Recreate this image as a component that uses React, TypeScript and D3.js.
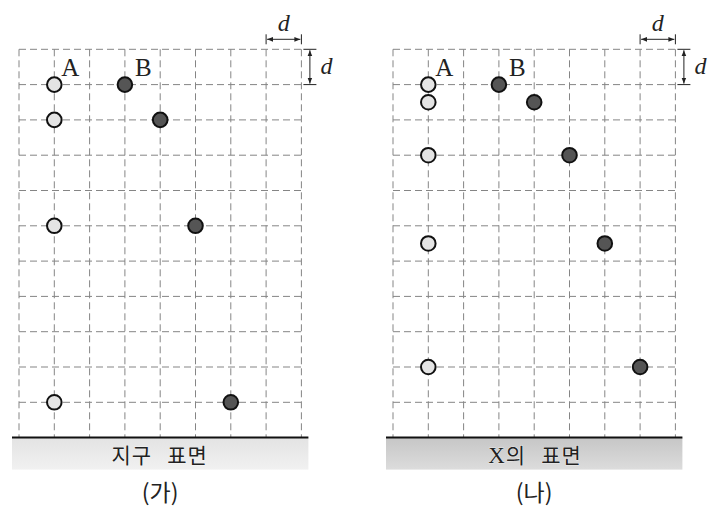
import * as d3 from 'd3';

// grid: 8 columns x 11 rows, each cell = d
const cols = 8;
const rows = 11;

// (가) on Earth: positions in units of d (column, row from top line)
const earthRows = [1, 2, 5, 10];
const earthACols = [1, 1, 1, 1];
const earthBCols = [3, 4, 5, 6];

// (나) on planet X
const xRows = [1, 1.5, 3, 5.5, 9];
const xACols = [1, 1, 1, 1, 1];
const xBCols = [3, 4, 5, 6, 7];

const panels = [
  {
    left: 19,
    rowsA: earthRows,
    colsA: earthACols,
    colsB: earthBCols,
    surface: ['', '지구', '표면'],
    caption: '(가)',
    shade: ['#e3e3e3', '#f1f1f1'],
  },
  {
    left: 393,
    rowsA: xRows,
    colsA: xACols,
    colsB: xBCols,
    surface: ['X', '의', '표면'],
    caption: '(나)',
    shade: ['#c6c6c6', '#dcdcdc'],
  },
];

const cell = 35.3;
const top = 49.3;
const serif = 'Liberation Serif, Times New Roman, serif';
const kr = "'Noto Sans CJK KR', sans-serif";

function Panel({ p, idx }: { p: (typeof panels)[number]; idx: number }) {
  const x = d3.scaleLinear().domain([0, cols]).range([p.left, p.left + cols * cell]);
  const y = d3.scaleLinear().domain([0, rows]).range([top, top + rows * cell]);
  const right = x(cols);
  const bottom = y(rows);
  const cx = (x(0) + right) / 2;
  const dash = '7 4';
  const gid = `shade${idx}`;
  const halo = { stroke: '#fff', strokeWidth: 0.6, paintOrder: 'stroke' as const };

  return (
    <g>
      <defs>
        <linearGradient id={gid} x1="0" y1="0" x2="0" y2="1">
          <stop offset="0" stopColor={p.shade[0]} />
          <stop offset="1" stopColor={p.shade[1]} />
        </linearGradient>
      </defs>
      {/* grid */}
      {d3.range(0, cols + 1).map((c) => (
        <line key={'v' + c} x1={x(c)} x2={x(c)} y1={top} y2={bottom}
          stroke="#858585" strokeWidth={1} strokeDasharray={dash} />
      ))}
      {d3.range(0, rows).map((r) => (
        <line key={'h' + r} x1={x(0)} x2={right} y1={y(r)} y2={y(r)}
          stroke="#858585" strokeWidth={1} strokeDasharray={dash} />
      ))}

      {/* surface */}
      <rect x={x(0) - 7} y={bottom} width={right - x(0) + 14} height={32} fill={`url(#${gid})`} />
      <line x1={x(0) - 7} x2={right + 7} y1={bottom} y2={bottom} stroke="#111" strokeWidth={2} />
      <text x={cx - 8} y={bottom + 25} textAnchor="end" fontSize={21} letterSpacing={1}
        fontFamily={kr} fill="#222" style={halo}>
        {p.surface[0] && <tspan fontFamily={serif} fontSize={23}>{p.surface[0]}</tspan>}
        <tspan>{p.surface[1]}</tspan>
      </text>
      <text x={cx + 7} y={bottom + 25} textAnchor="start" fontSize={21} letterSpacing={1}
        fontFamily={kr} fill="#222" style={halo}>{p.surface[2]}</text>
      <text x={cx} y={bottom + 63} textAnchor="middle" fontSize={23}
        fontFamily={kr} fill="#222">{p.caption}</text>

      {/* labels */}
      <text x={x(p.colsA[0]) + 7} y={y(1) - 9} fontSize={25} fontFamily={serif} fill="#222">A</text>
      <text x={x(p.colsB[0]) + 10} y={y(1) - 9} fontSize={25} fontFamily={serif} fill="#222">B</text>

      {/* d dimension marks */}
      <g stroke="#222" strokeWidth={1}>
        <line x1={x(cols - 1)} x2={x(cols - 1)} y1={top - 15} y2={top - 5} />
        <line x1={right} x2={right} y1={top - 15} y2={top - 5} />
        <line x1={x(cols - 1) + 1} x2={right - 1} y1={top - 10} y2={top - 10} markerStart="url(#arr)" markerEnd="url(#arr)" />
        <line x1={right + 2} x2={right + 15} y1={y(0)} y2={y(0)} />
        <line x1={right + 2} x2={right + 15} y1={y(1)} y2={y(1)} />
        <line x1={right + 8.5} x2={right + 8.5} y1={y(0) + 1} y2={y(1) - 1} markerStart="url(#arr)" markerEnd="url(#arr)" />
      </g>
      <text x={(x(cols - 1) + right) / 2} y={top - 18} textAnchor="middle" fontSize={24} fontStyle="italic"
        fontFamily={serif} fill="#222">d</text>
      <text x={right + 25} y={y(1) - 11} textAnchor="middle" fontSize={24} fontStyle="italic"
        fontFamily={serif} fill="#222">d</text>

      {/* balls */}
      {p.rowsA.map((r, i) => (
        <circle key={'a' + i} cx={x(p.colsA[i])} cy={y(r)} r={7.3} fill="#e4e4e4" stroke="#111" strokeWidth={2} />
      ))}
      {p.rowsA.map((r, i) => (
        <circle key={'b' + i} cx={x(p.colsB[i])} cy={y(r)} r={7.3} fill="#555" stroke="#111" strokeWidth={2} />
      ))}
    </g>
  );
}

export default function App() {
  return (
    <svg width={727} height={514} style={{ position: 'absolute', left: 0, top: 0, background: '#fff' }}>
      <defs>
        <marker id="arr" viewBox="0 0 10 10" refX={10} refY={5} markerWidth={6} markerHeight={6}
          orient="auto-start-reverse" markerUnits="userSpaceOnUse">
          <path d="M0,1 L10,5 L0,9 Z" fill="#222" />
        </marker>
      </defs>
      {panels.map((p, i) => (
        <Panel key={i} p={p} idx={i} />
      ))}
    </svg>
  );
}
